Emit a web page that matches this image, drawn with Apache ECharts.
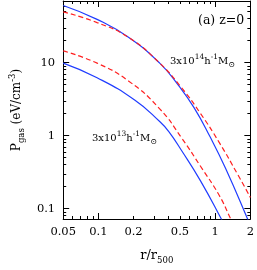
<!DOCTYPE html>
<html>
<head>
<meta charset="utf-8">
<script src="https://cdn.jsdelivr.net/npm/echarts@6/dist/echarts.min.js"></script>
<style>html,body{margin:0;padding:0;background:#fff}#c{width:257px;height:270px}</style>
</head>
<body>
<div id="c"></div>
<script>
// ---- data ----
const hiMassSolidR = [0.05, 0.0975, 0.181, 0.335, 0.489, 0.661, 0.902, 1.229, 1.89, 2.0];
const hiMassSolidP = [60.8, 39.2, 22.3, 9.85, 4.8, 2.4, 0.97, 0.354, 0.0724, 0.057];
const hiMassDashR = [0.05, 0.0975, 0.181, 0.335, 0.517, 0.749, 1.085, 1.57, 2.0];
const hiMassDashP = [49.7, 35.4, 22.2, 9.85, 4.5, 2.01, 0.802, 0.288, 0.142];
const loMassSolidR = [0.05, 0.0975, 0.2045, 0.335, 0.398, 0.517, 0.749, 1.126, 1.25];
const loMassSolidP = [9.85, 6.21, 3.07, 1.56, 1.15, 0.621, 0.24, 0.0724, 0.0513];
const loMassDashR = [0.05, 0.0975, 0.181, 0.335, 0.517, 0.749, 1.085, 1.356, 1.5];
const loMassDashP = [14.5, 9.85, 5.61, 2.33, 0.926, 0.38, 0.151, 0.0724, 0.0518];

const xLabels = [0.05, 0.1, 0.2, 0.5, 1, 2];
const xMajor = [0.1, 1];
const xMinor = [0.06, 0.07, 0.08, 0.09, 0.2, 0.3, 0.4, 0.5, 0.6, 0.7, 0.8, 0.9, 2];
const yLabels = [0.1, 1, 10];
const yMajor = [0.1, 1, 10];
const yMinor = [0.08, 0.09, 0.2, 0.3, 0.4, 0.5, 0.6, 0.7, 0.8, 0.9, 2, 3, 4, 5, 6, 7, 8, 9, 20, 30, 40, 50, 60, 70];

const X_MIN = 0.04999, X_MAX = 2.0002, Y_MIN = 0.072, Y_MAX = 70;
const FONT = 'DejaVu Serif';
const BLUE = '#1f3cff', RED = '#ff2020';

function zip(a, b) { return a.map((v, i) => [v, b[i]]); }
function fmt(v) { return String(parseFloat(Number(v).toPrecision(6))); }

const richBase = {
  n: { fontFamily: FONT, fontSize: 12, lineHeight: 18, verticalAlign: 'middle', color: '#000' },
  sup: { fontFamily: FONT, fontSize: 8.5, lineHeight: 10, verticalAlign: 'top', color: '#000' },
  sub: { fontFamily: FONT, fontSize: 8.5, lineHeight: 10, verticalAlign: 'bottom', color: '#000' }
};

function xAx(position, showLine, showLabel, ticks, len) {
  return {
    type: 'log', logBase: 10, min: X_MIN, max: X_MAX, position: position,
    axisLine: { show: showLine, lineStyle: { color: '#000', width: 1 } },
    axisTick: { show: true, inside: true, length: len, customValues: ticks, lineStyle: { color: '#000', width: 1 } },
    axisLabel: { show: showLabel, customValues: xLabels, formatter: fmt, margin: 7, color: '#000', fontFamily: FONT, fontSize: 11.5 },
    splitLine: { show: false }, minorTick: { show: false }
  };
}
function yAx(position, showLine, showLabel, ticks, len) {
  return {
    type: 'log', logBase: 10, min: Y_MIN, max: Y_MAX, position: position,
    axisLine: { show: showLine, lineStyle: { color: '#000', width: 1 } },
    axisTick: { show: true, inside: true, length: len, customValues: ticks, lineStyle: { color: '#000', width: 1 } },
    axisLabel: { show: showLabel, customValues: yLabels, formatter: fmt, margin: 8, color: '#000', fontFamily: FONT, fontSize: 11.5 },
    splitLine: { show: false }, minorTick: { show: false }
  };
}

const xMain = xAx('bottom', true, true, xMajor, 6);
xMain.name = '{n|r/r}{sub|500}';
xMain.nameLocation = 'middle';
xMain.nameGap = 28;
xMain.nameTextStyle = { rich: Object.assign({}, richBase, { n: Object.assign({}, richBase.n, { fontSize: 13 }) }) };
const yMain = yAx('left', true, true, yMajor, 6);
yMain.name = '{n|P}{sub|gas}{n| (eV/cm}{sup|-3}{n|)}';
yMain.nameLocation = 'middle';
yMain.nameGap = 36;
yMain.nameTextStyle = { rich: richBase };

const labelRich = {
  n: { fontFamily: FONT, fontSize: 10, lineHeight: 16, verticalAlign: 'middle', fill: '#000' },
  sup: { fontFamily: FONT, fontSize: 7.5, lineHeight: 9, verticalAlign: 'top', fill: '#000' },
  sub: { fontFamily: FONT, fontSize: 8, lineHeight: 9, verticalAlign: 'bottom', fill: '#000' }
};

function curve(r, p, color, dashed) {
  return {
    type: 'line', data: zip(r, p), showSymbol: false, symbol: 'none', smooth: 0.5,
    lineStyle: { color: color, width: 1.2, type: dashed ? [5, 3] : 'solid' }
  };
}

const chart = echarts.init(document.getElementById('c'), null, { renderer: 'canvas' });
chart.setOption({
  animation: false,
  backgroundColor: '#fff',
  grid: { left: 54, right: 4, top: 1, bottom: 45 },
  xAxis: [
    xMain,
    xAx('bottom', false, false, xMinor, 3),
    xAx('top', true, false, xMajor, 6),
    xAx('top', false, false, xMinor, 3)
  ],
  yAxis: [
    yMain,
    yAx('left', false, false, yMinor, 3),
    yAx('right', true, false, yMajor, 6),
    yAx('right', false, false, yMinor, 3)
  ],
  series: [
    curve(hiMassSolidR, hiMassSolidP, BLUE, false),
    curve(loMassSolidR, loMassSolidP, BLUE, false),
    curve(hiMassDashR, hiMassDashP, RED, true),
    curve(loMassDashR, loMassDashP, RED, true)
  ],
  graphic: [
    { type: 'text', x: 198, y: 21, style: { text: '(a) z=0', fontFamily: FONT, fontSize: 12.5, fill: '#000', verticalAlign: 'middle' } },
    { type: 'text', x: 170, y: 61, style: { text: '{n|3x10}{sup|14}{n|h}{sup|-1}{n|M}{sub|⊙}', rich: labelRich, verticalAlign: 'middle' } },
    { type: 'text', x: 92, y: 138, style: { text: '{n|3x10}{sup|13}{n|h}{sup|-1}{n|M}{sub|⊙}', rich: labelRich, verticalAlign: 'middle' } }
  ]
});
</script>
</body>
</html>
